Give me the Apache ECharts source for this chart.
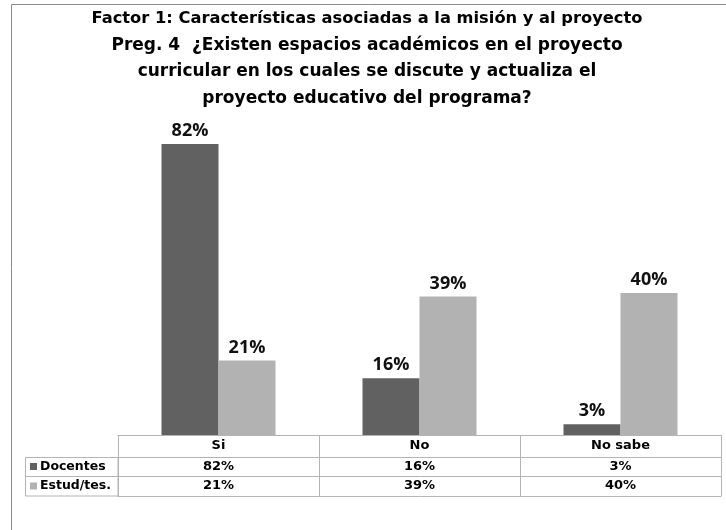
<!DOCTYPE html>
<html>
<head>
<meta charset="utf-8">
<title>Factor 1 - Preg. 4</title>
<script src="https://cdn.jsdelivr.net/npm/echarts@6/dist/echarts.min.js"></script>
<style>
  html, body { margin: 0; padding: 0; background: #fff; }
  #chart { width: 726px; height: 530px; }
</style>
</head>
<body>
<div id="chart"></div>
<script>
// datos
const categories = ['Si', 'No', 'No sabe']
const seriesNames = ['Docentes', 'Estud/tes.']
const docentes = [82, 16, 3]
const estudiantes = [21, 39, 40]

const titleLine1 = 'Factor 1: Características asociadas a la misión y al proyecto'
const titleLines = [
  'Preg. 4  ¿Existen espacios académicos en el proyecto',
  'curricular en los cuales se discute y actualiza el',
  'proyecto educativo del programa?'
]

const darkGray = '#616161'
const lightGray = '#b2b2b2'
const tableLine = '#b4b4b4'
const tableFont = 'DejaVu Sans'

const pct = (v) => v + '%'

const chart = echarts.init(document.getElementById('chart'))

// eje de categorías que forma una fila de la tabla de datos
const tableAxis = (data, offset, showLabel) => ({
  type: 'category',
  data: data,
  position: 'bottom',
  offset: offset,
  axisLine: { show: true, lineStyle: { color: tableLine, width: 1 } },
  axisTick: { show: false },
  axisLabel: {
    show: showLabel,
    interval: 0,
    margin: 2.5,
    fontFamily: tableFont,
    fontWeight: 'bold',
    fontSize: 13,
    lineHeight: 14,
    color: '#000'
  },
  splitLine: { show: false }
})

const barLabel = {
  show: true,
  position: 'top',
  distance: 4,
  formatter: (p) => pct(p.value),
  fontFamily: 'Open Sans',
  fontWeight: 'bold',
  fontSize: 18,
  color: '#111'
}

const option = {
  animation: false,
  title: [{
    text: titleLine1,
    left: 362,
    top: 6,
    textAlign: 'center',
    textStyle: { fontFamily: tableFont, fontWeight: 'bold', fontSize: 16.3, color: '#000' }
  }, {
    text: titleLines.join('\n'),
    left: 362,
    top: 27,
    textAlign: 'center',
    textStyle: { fontFamily: tableFont, fontWeight: 'bold', fontSize: 17, lineHeight: 26.5, color: '#000' }
  }],
  legend: {
    orient: 'vertical',
    left: 30,
    top: 459.5,
    padding: 0,
    itemWidth: 7,
    itemHeight: 7,
    itemGap: 5.5,
    icon: 'rect',
    data: seriesNames,
    textStyle: { fontFamily: tableFont, fontWeight: 'bold', fontSize: 12.5, lineHeight: 14, color: '#000', padding: [0, 0, 0, -2] }
  },
  grid: { left: 118, right: 5, top: 80, bottom: 95, containLabel: false },
  xAxis: [{
    type: 'category',
    data: categories,
    position: 'bottom',
    axisLine: { show: true, lineStyle: { color: tableLine, width: 1 } },
    axisTick: { show: true, interval: 0, length: 61, lineStyle: { color: tableLine, width: 1 } },
    axisLabel: {
      interval: 0,
      margin: 4,
      fontFamily: tableFont,
      fontWeight: 'bold',
      fontSize: 13,
      lineHeight: 14,
      color: '#000'
    }
  },
  tableAxis(docentes.map(pct), 22, true),
  tableAxis(estudiantes.map(pct), 41.5, true),
  tableAxis(categories, 61, false)
  ],
  yAxis: {
    type: 'value',
    min: 0,
    max: 100,
    show: false
  },
  series: [{
    name: seriesNames[0],
    type: 'bar',
    data: docentes,
    barWidth: 57,
    barGap: '0%',
    itemStyle: { color: darkGray },
    label: barLabel
  }, {
    name: seriesNames[1],
    type: 'bar',
    data: estudiantes,
    barWidth: 57,
    barGap: '0%',
    itemStyle: { color: lightGray },
    label: barLabel
  }],
  graphic: [{
    // marco exterior del gráfico
    type: 'rect',
    shape: { x: 11.5, y: 4.5, width: 800, height: 600 },
    style: { fill: 'none', stroke: '#8a8a8a', lineWidth: 1 },
    silent: true
  }, {
    // columna de la leyenda en la tabla
    type: 'rect',
    shape: { x: 25.5, y: 457.5, width: 92.5, height: 38.5 },
    style: { fill: 'none', stroke: tableLine, lineWidth: 1 },
    silent: true
  }, {
    type: 'line',
    shape: { x1: 25.5, y1: 476.5, x2: 118, y2: 476.5 },
    style: { stroke: tableLine, lineWidth: 1 },
    silent: true
  }]
}

chart.setOption(option)
</script>
</body>
</html>
